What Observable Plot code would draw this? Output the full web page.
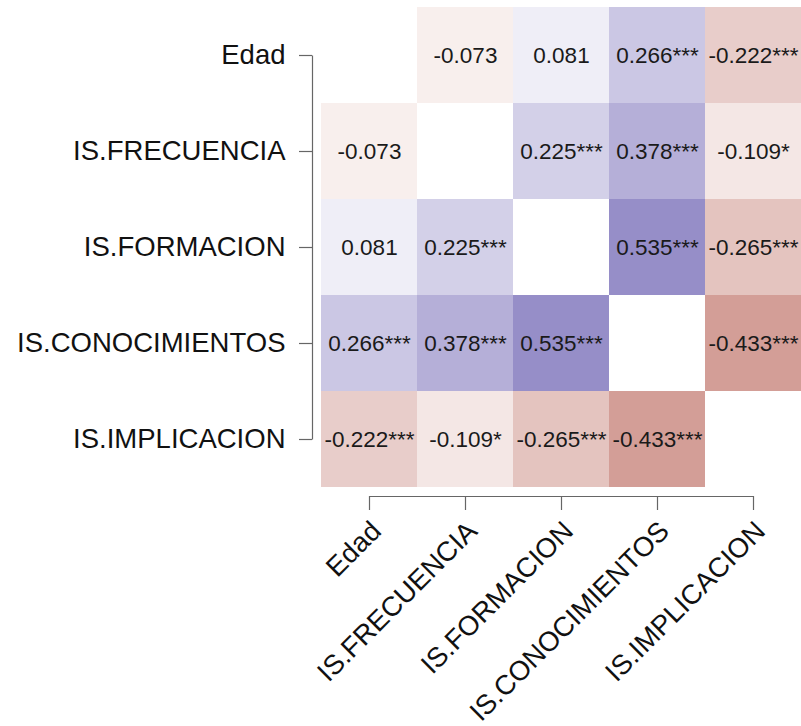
<!DOCTYPE html>
<html>
<head>
<meta charset="utf-8">
<script src="https://cdn.jsdelivr.net/npm/d3@7"></script>
<script src="https://cdn.jsdelivr.net/npm/@observablehq/plot@0.6"></script>
<style>
  html, body { margin: 0; padding: 0; background: #fff; }
</style>
</head>
<body>
<div id="chart"></div>
<script>
const vars = ["Edad", "IS.FRECUENCIA", "IS.FORMACION", "IS.CONOCIMIENTOS", "IS.IMPLICACION"];
const rowEdad = [null, -0.073, 0.081, 0.266, -0.222];
const rowFrecuencia = [-0.073, null, 0.225, 0.378, -0.109];
const rowFormacion = [0.081, 0.225, null, 0.535, -0.265];
const rowConocimientos = [0.266, 0.378, 0.535, null, -0.433];
const rowImplicacion = [-0.222, -0.109, -0.265, -0.433, null];
const starsEdad = ["", "", "", "***", "***"];
const starsFrecuencia = ["", "", "***", "***", "*"];
const starsFormacion = ["", "***", "", "***", "***"];
const starsConocimientos = ["***", "***", "***", "", "***"];
const starsImplicacion = ["***", "*", "***", "***", ""];

const rows = [rowEdad, rowFrecuencia, rowFormacion, rowConocimientos, rowImplicacion];
const stars = [starsEdad, starsFrecuencia, starsFormacion, starsConocimientos, starsImplicacion];
const data = [];
rows.forEach((r, i) => r.forEach((v, j) => {
  if (v !== null) data.push({row: vars[i], col: vars[j], r: v, label: v.toFixed(3) + stars[i][j]});
}));

const font = "'Liberation Sans', Arial, Helvetica, sans-serif";
const chart = Plot.plot({
  width: 801,
  height: 726,
  marginLeft: 321,
  marginRight: 0,
  marginTop: 7,
  marginBottom: 239,
  style: {fontFamily: font, background: "#fff", color: "#000"},
  x: {domain: vars, padding: 0},
  y: {domain: vars, padding: 0},
  color: {type: "linear", domain: [-1, 0, 1], range: ["rgb(153,31,15)", "#ffffff", "rgb(59,44,152)"], interpolate: "rgb"},
  marks: [
    Plot.cell(data, {x: "col", y: "row", fill: "r"}),
    Plot.text(data, {x: "col", y: "row", text: "label", fontSize: 22.5, fill: "#1a1a1a"}),
    Plot.link([vars], {x1: d => d[0], x2: d => d[0], y1: d => d[0], y2: d => d[4], dx: -57, stroke: "#666", strokeWidth: 1.2}),
    Plot.link([vars], {x1: d => d[0], x2: d => d[4], y1: d => d[4], y2: d => d[4], dy: 57, stroke: "#666", strokeWidth: 1.2}),
    Plot.axisY({anchor: "left", tickSize: 13, tickPadding: 14, dx: -9, fontSize: 27.5, label: null, stroke: "#666", strokeWidth: 1.2, fill: "#111"}),
    Plot.axisX({anchor: "bottom", tickSize: 14, dy: 9, label: null, stroke: "#666", strokeWidth: 1.2, fill: "none"}),
    Plot.axisX({anchor: "bottom", tickSize: 14, tickPadding: 8, dx: 7, dy: 17, tickRotate: -45, fontSize: 27.5, label: null, stroke: "none", fill: "#111"})
  ]
});
document.getElementById("chart").appendChild(chart);
</script>
</body>
</html>
